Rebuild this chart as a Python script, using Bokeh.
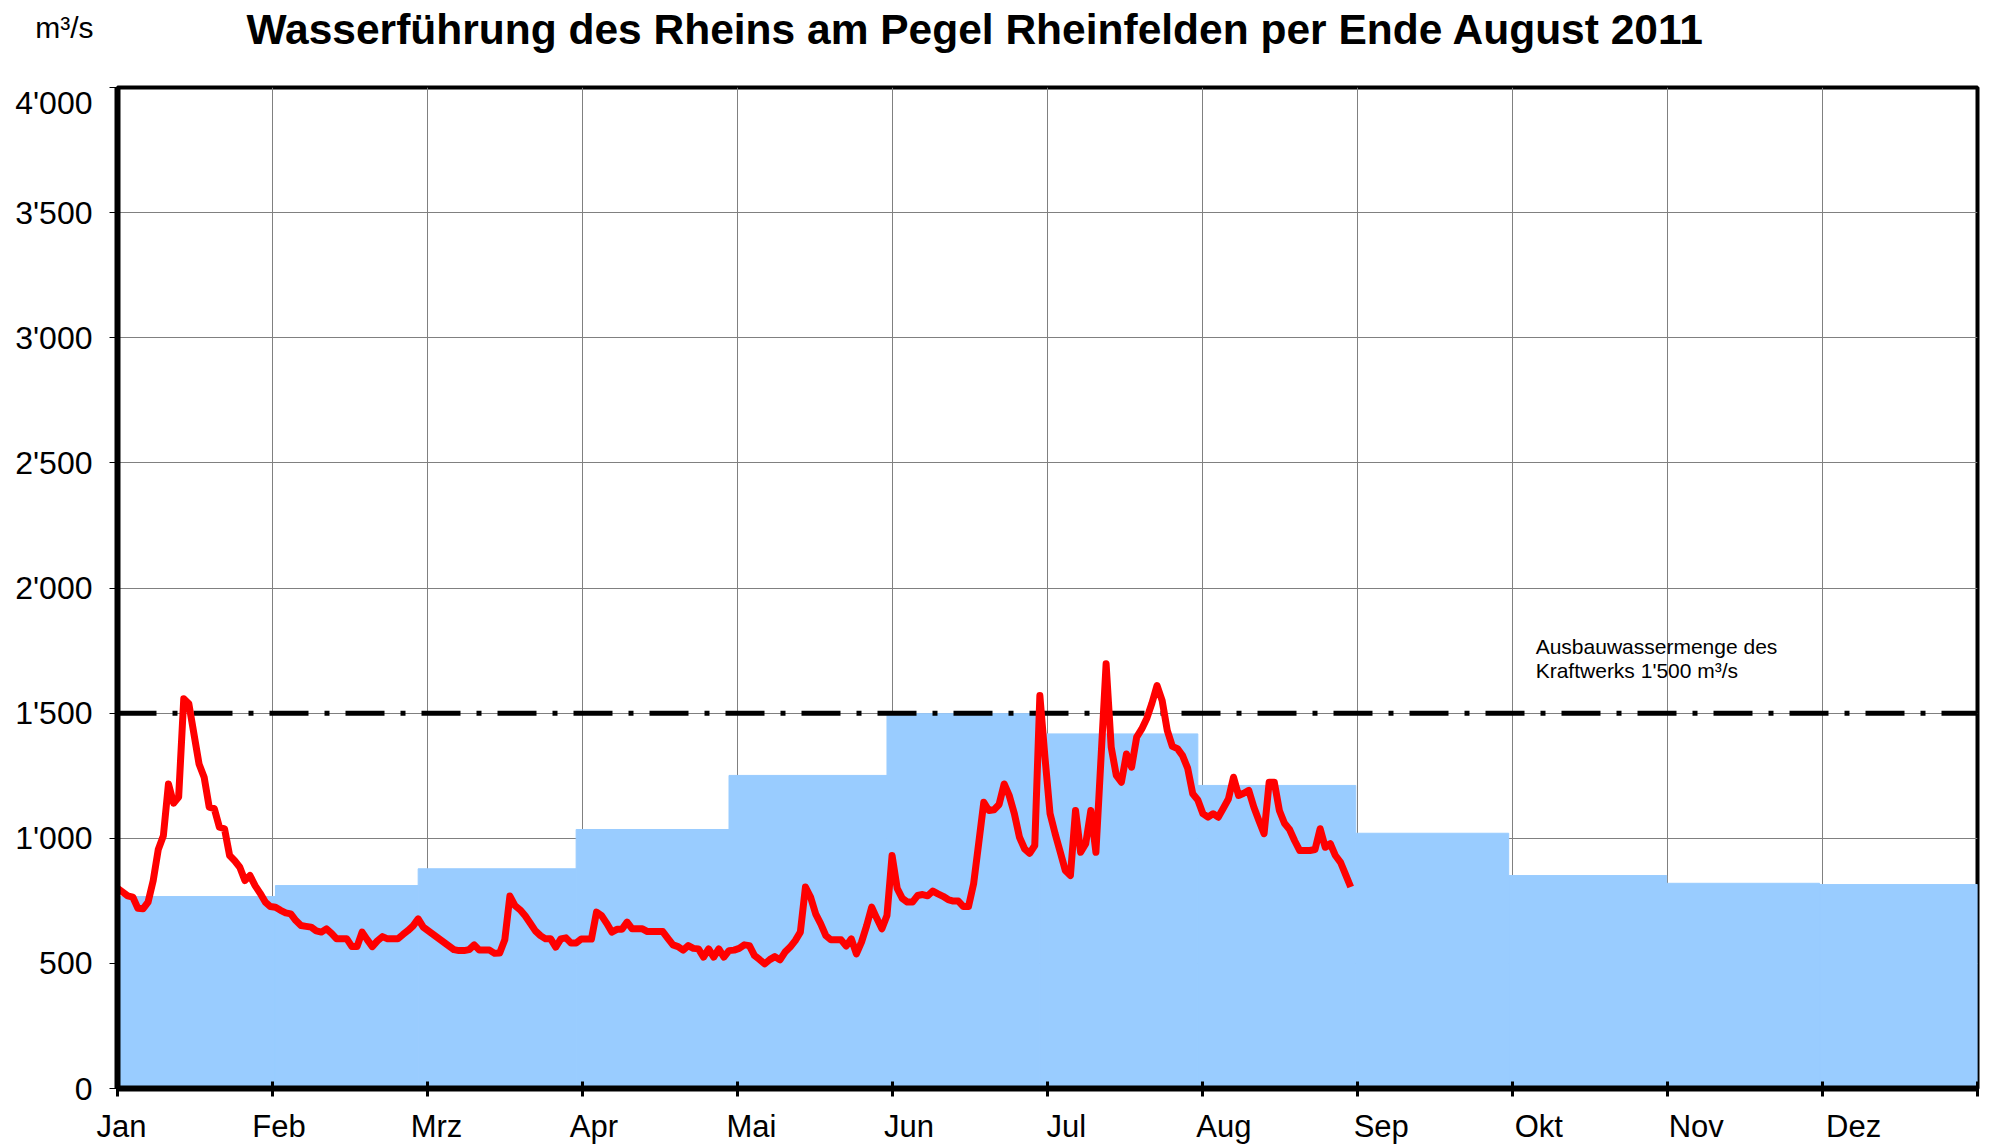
from bokeh.plotting import figure
from bokeh.layouts import column
from bokeh.models import FixedTicker, CustomJSTickFormatter, LinearAxis, Label, Range1d
from bokeh.embed import file_html
from bokeh.resources import INLINE

# ---------------- data ----------------
month_names = ["Jan", "Feb", "Mrz", "Apr", "Mai", "Jun", "Jul", "Aug", "Sep", "Okt", "Nov", "Dez"]
month_days = [31, 28, 31, 30, 31, 30, 31, 31, 30, 31, 30, 31]
monthly_mean = [767, 811, 878, 1035, 1251, 1498, 1417, 1211, 1020, 851, 820, 815]
capacity = 1500
y_tick_values = [0, 500, 1000, 1500, 2000, 2500, 3000, 3500, 4000]
y_tick_labels = ["0", "500", "1'000", "1'500", "2'000", "2'500", "3'000", "3'500", "4'000"]

# daily discharge 1 Jan - 31 Aug 2011 (m3/s)
daily_flow = [
    800, 785, 770, 765, 720, 718, 745, 830, 955, 1010,
    1217, 1140, 1165, 1557, 1537, 1417, 1297, 1244, 1124, 1118,
    1044, 1038, 931, 910, 884, 831, 851, 811, 780, 745,
    727, 724, 712, 702, 698, 671, 651, 648, 645, 630,
    625, 638, 620, 598, 598, 598, 567, 567, 625, 595,
    567, 590, 607, 598, 598, 598, 615, 631, 650, 678,
    645, 630, 615, 600, 585, 570, 555, 551, 551, 555,
    574, 553, 553, 553, 540, 541, 594, 769, 731, 714,
    690, 660, 630, 611, 598, 598, 565, 598, 602, 581,
    581, 597, 597, 597, 705, 691, 660, 625, 636, 636,
    665, 638, 638, 638, 627, 627, 627, 627, 600, 574,
    567, 553, 571, 560, 558, 525, 558, 525, 558, 525,
    551, 553, 560, 574, 571, 531, 515, 498, 515, 527,
    514, 545, 565, 591, 625, 805, 765, 698, 658, 611,
    594, 594, 594, 569, 598, 538, 585, 650, 725, 680,
    638, 691, 931, 800, 760, 745, 745, 771, 775, 770,
    789, 778, 768, 755, 749, 749, 727, 727, 818, 980,
    1144, 1111, 1114, 1135, 1217, 1170, 1098, 1004, 958, 940,
    971, 1570, 1324, 1098, 1018, 945, 871, 851, 1111, 944,
    978, 1111, 944, 1320, 1697, 1364, 1251, 1224, 1337, 1284,
    1404, 1437, 1480, 1540, 1610, 1550, 1431, 1367, 1358, 1330,
    1280, 1178, 1153, 1098, 1084, 1098, 1084, 1120, 1157, 1244,
    1171, 1180, 1191, 1124, 1070, 1018, 1224, 1224, 1111, 1060,
    1035, 990, 951, 951, 951, 955, 1038, 964, 978, 931,
    904, 855, 805,
]

# ---------------- derived ----------------
year_days = sum(month_days)
month_start = [sum(month_days[:i]) for i in range(12)]
month_end = [sum(month_days[:i + 1]) for i in range(12)]
day_index = list(range(len(daily_flow)))
month_ticks = [i * year_days / 12 for i in range(13)]
label_ticks = [0.8 + i * 30.9 for i in range(12)]

FONT = "Liberation Sans"
W = 1998
LEFT, RIGHT = 117, 21
HEADER_H, HEADER_BOTTOM = 84, 30
HEADER_FRAME_H = HEADER_H - HEADER_BOTTOM

# ---------------- header (title + unit) ----------------
header = figure(width=W, height=HEADER_H, title=None,
                x_range=Range1d(LEFT, W - RIGHT), y_range=Range1d(HEADER_FRAME_H, 0),
                x_axis_type=None, output_backend="svg", toolbar_location=None,
                min_border_left=LEFT, min_border_right=RIGHT, min_border_top=0,
                min_border_bottom=HEADER_BOTTOM, outline_line_color=None,
                background_fill_color="white", border_fill_color="white")
header.grid.visible = False
hy = header.yaxis[0]
hy.ticker = FixedTicker(ticks=[])
hy.axis_line_color = None
hy.major_tick_line_color = None
hy.minor_tick_line_color = None
hy.major_tick_in = 0
hy.major_tick_out = 0
hy.major_label_standoff = 0
hy.axis_label = "m³/s"
hy.axis_label_orientation = "horizontal"
hy.axis_label_standoff = 24
hy.axis_label_text_font = FONT
hy.axis_label_text_font_style = "normal"
hy.axis_label_text_font_size = "30px"
hy.axis_label_text_color = "black"
header.add_layout(Label(x=975, y=28.5, text="Wasserführung des Rheins am Pegel Rheinfelden per Ende August 2011",
                        text_align="center", text_baseline="alphabetic", text_font=FONT,
                        text_font_style="bold", text_font_size="42.5px", text_color="black"))

# ---------------- main chart ----------------
p = figure(
    frame_width=1860, frame_height=1001,
    x_range=(0, year_days), y_range=(0, 4000),
    output_backend="svg", toolbar_location=None,
    min_border_left=LEFT, min_border_right=RIGHT, min_border_top=3, min_border_bottom=56,
    background_fill_color="white", border_fill_color="white",
)

p.outline_line_color = "black"
p.outline_line_width = 4

# x axis: tick marks only
xa = p.xaxis[0]
xa.ticker = FixedTicker(ticks=month_ticks)
xa.formatter = CustomJSTickFormatter(code="return '';")
xa.major_label_text_font_size = "1px"
xa.major_label_standoff = 0
xa.major_tick_in = 7
xa.major_tick_out = 8
xa.major_tick_line_width = 3
xa.major_tick_line_color = "black"
xa.minor_tick_line_color = None
xa.axis_line_width = 6
xa.axis_line_color = "black"

# x axis: month labels
la = LinearAxis(
    ticker=FixedTicker(ticks=label_ticks),
    formatter=CustomJSTickFormatter(args=dict(names=month_names), code="return names[index];"),
    axis_line_color=None, major_tick_line_color=None, minor_tick_line_color=None,
    major_tick_in=0, major_tick_out=0,
    major_label_standoff=12,
    major_label_text_font=FONT, major_label_text_font_size="31px",
    major_label_text_color="black",
)
p.add_layout(la, "below")

# y axis
ya = p.yaxis[0]
ya.ticker = FixedTicker(ticks=y_tick_values)
ya.major_label_overrides = {v: t for v, t in zip(y_tick_values, y_tick_labels)}
ya.major_label_text_font = FONT
ya.major_label_text_font_size = "32px"
ya.major_label_text_color = "black"
ya.major_label_standoff = 17
ya.major_tick_in = 0
ya.major_tick_out = 8
ya.major_tick_line_width = 1
ya.major_tick_line_color = "black"
ya.minor_tick_line_color = None
ya.axis_line_width = 6
ya.axis_line_color = "black"

# grids
p.xgrid.ticker = FixedTicker(ticks=month_ticks)
p.ygrid.ticker = FixedTicker(ticks=y_tick_values)
for g in (p.xgrid, p.ygrid):
    g.grid_line_color = "#808080"
    g.grid_line_width = 1

# monthly mean (blue steps)
p.quad(left=month_start, right=month_end, bottom=0, top=monthly_mean,
       fill_color="#99CCFF", line_color="#99CCFF", line_width=1)

# capacity line
p.line(x=[0, year_days], y=[capacity, capacity], line_color="black",
       line_width=5, line_dash="39 16 5 16")

# daily flow
p.line(x=day_index, y=daily_flow, line_color="#FF0000", line_width=7, line_join="round")

# annotation
p.add_layout(Label(x=278.3, y=1766, text="Ausbauwassermenge des", text_align="left",
                   text_baseline="alphabetic", text_font=FONT, text_font_size="21px", text_color="black"))
p.add_layout(Label(x=278.3, y=1672, text="Kraftwerks 1'500 m³/s", text_align="left",
                   text_baseline="alphabetic", text_font=FONT, text_font_size="21px", text_color="black"))

layout = column(header, p, spacing=0)
open("out.html", "w").write(file_html(layout, INLINE))
